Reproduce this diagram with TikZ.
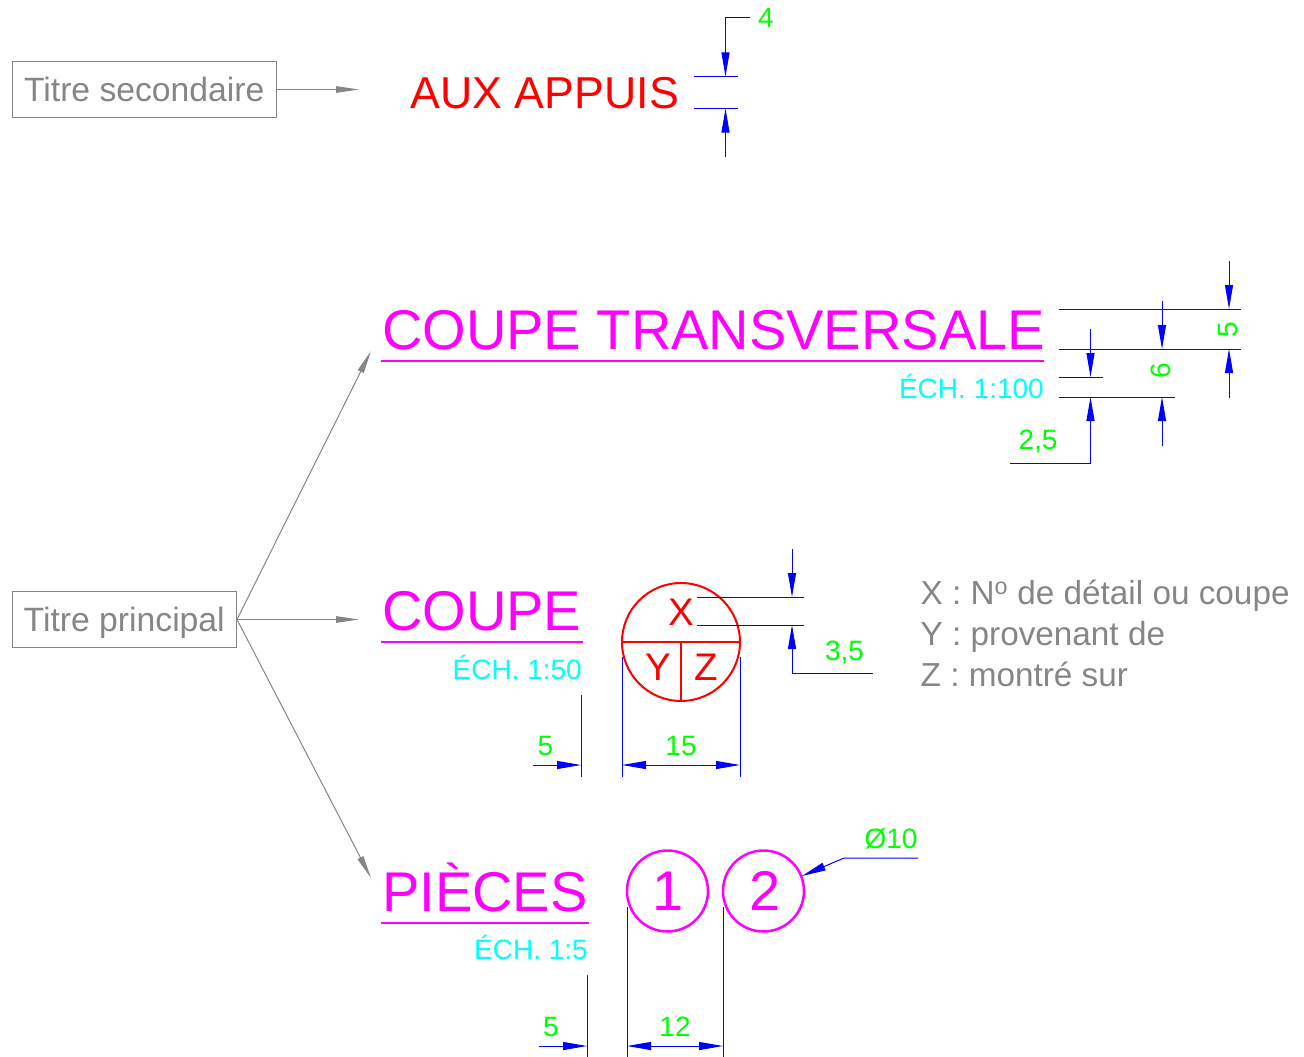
\documentclass[tikz,border=0pt]{standalone}
\usepackage{fontspec}
\setmainfont{Liberation Sans}
\usetikzlibrary{arrows.meta}
\definecolor{titregris}{HTML}{868686}
\definecolor{titrerose}{RGB}{255,0,255}
\definecolor{titrecyan}{RGB}{0,255,255}
\definecolor{titrevert}{RGB}{0,255,0}
\definecolor{titrebleu}{RGB}{0,0,255}
\definecolor{titrerouge}{RGB}{255,0,0}
\tikzset{
	cote/.style={titrebleu, line width=1pt},
	fleche/.style={cote, -{Triangle[length=24pt,width=8pt]}},
	renvoi/.style={titregris, line width=1pt, -{Triangle[length=23pt,width=6.5pt]}},
	cadre/.style={draw=titregris, line width=1pt, text=titregris, inner sep=0pt, text height=23.5pt, text depth=0pt, font=\fontsize{33.7}{40}\selectfont},
	note/.style={titregris, anchor=base west, inner sep=0pt, font=\fontsize{33.3}{40}\selectfont},
	titre/.style={titrerose, anchor=base west, inner sep=0pt, font=\fontsize{56}{60}\selectfont},
	echelle/.style={titrecyan, anchor=base east, inner sep=0pt, font=\fontsize{28}{30}\selectfont},
	valeur/.style={titrevert, anchor=base, inner sep=0pt, font=\fontsize{28}{30}\selectfont},
	repere/.style={titrerouge, anchor=base, inner sep=0pt, font=\fontsize{38.5}{40}\selectfont},
	souligne/.style={titrerose, line width=2.5pt},
}
\begin{document}
\begin{tikzpicture}[x=1pt, y=-1pt]
		%%%%% START %%%%%
		\useasboundingbox (0, 0) rectangle (1304, 1057);
		
		\node[cadre, minimum width=264.5pt, minimum height=56.5pt] (secondaire) at (144.25, 89.5) {Titre secondaire};
		\node[cadre, minimum width=224.5pt, minimum height=56pt] (principal) at (124.25, 619.5) {Titre principal};
		
		\node[titrerouge, anchor=base west, inner sep=0pt, font=\fontsize{44.7}{50}\selectfont] (appuis) at (410.5, 108.5) {AUX APPUIS};
		\node[titre] (transversale) at (382, 349.5) {COUPE TRANSVERSALE};
		\node[titre] (coupe) at (382, 630) {COUPE};
		\node[titre] (pieces) at (382, 911) {PIÈCES};
		
		\coordinate (versappuis) at (359, 89.5);
		\coordinate (verstransversale) at (371, 351);
		\coordinate (verscoupe) at (359, 619.5);
		\coordinate (verspieces) at (371, 878);
		\draw[renvoi] (secondaire.east) -- (versappuis);
		\draw[renvoi] (principal.east) -- (verstransversale);
		\draw[renvoi] (principal.east) -- (verscoupe);
		\draw[renvoi] (principal.east) -- (verspieces);
		
		\draw[souligne] (381, 361) -- (1044, 361);
		\draw[souligne] (381, 642) -- (583, 642);
		\draw[souligne] (381, 923) -- (589, 923);
		
		\node[echelle] (echtransversale) at (1044, 398) {ÉCH. 1:100};
		\node[echelle] (echcoupe) at (582, 679) {ÉCH. 1:50};
		\node[echelle] (echpieces) at (588, 959.5) {ÉCH. 1:5};
		
		% repere de coupe
		\draw[titrerouge, line width=2pt] (681, 642) circle (59);
		\draw[titrerouge, line width=2pt] (622, 642) -- (740, 642);
		\draw[titrerouge, line width=2pt] (681, 642) -- (681, 701);
		\node[repere] (x) at (681, 625) {X};
		\node[repere] (y) at (658.5, 680) {Y};
		\node[repere] (z) at (706, 680) {Z};
		
		% reperes de pieces
		\draw[titrerose, line width=2.5pt] (667.5, 891) circle (40.5);
		\draw[titrerose, line width=2.5pt] (763.5, 891) circle (40.5);
		\node[titre, anchor=base] (un) at (668, 910.5) {1};
		\node[titre, anchor=base] (deux) at (765.5, 910.5) {2};
		
		\node[note] (notex) at (920.5, 604) {X : N\textsuperscript{o} de détail ou coupe};
		\node[note] (notey) at (920.5, 645) {Y : provenant de};
		\node[note] (notez) at (920.5, 686) {Z : montré sur};
		
		% cote 4
		\draw[cote] (694, 76.5) -- (738, 76.5);
		\draw[cote] (694, 108.5) -- (738, 108.5);
		\draw[fleche] (750, 18) -- (725.5, 18) -- (725.5, 76.5);
		\draw[fleche] (725.5, 157) -- (725.5, 108.5);
		\node[valeur] (cote4) at (766, 28) {4};
		
		% cotes du titre principal
		\draw[cote] (1059, 309) -- (1241, 309);
		\draw[cote] (1059, 349) -- (1241, 349);
		\draw[cote] (1059, 377) -- (1103, 377);
		\draw[cote] (1059, 397) -- (1175, 397);
		\draw[fleche] (1229, 261) -- (1229, 309);
		\draw[fleche] (1229, 398) -- (1229, 349);
		\draw[fleche] (1162, 301) -- (1162, 349);
		\draw[fleche] (1162, 446) -- (1162, 397);
		\draw[fleche] (1090.5, 329) -- (1090.5, 377);
		\draw[fleche] (1010, 463) -- (1090.5, 463) -- (1090.5, 397);
		\node[valeur, rotate=90] (cote5) at (1237, 330) {5};
		\node[valeur, rotate=90] (cote6) at (1170, 371) {6};
		\node[valeur] (cote25) at (1038, 449) {2,5};
		
		% cotes de la coupe
		\draw[cote] (697, 597) -- (804, 597);
		\draw[cote] (697, 625) -- (804, 625);
		\draw[fleche] (792, 549) -- (792, 597);
		\draw[fleche] (873, 673.5) -- (792, 673.5) -- (792, 625);
		\node[valeur] (cote35) at (844.5, 660) {3,5};
		
		\draw[cote] (622, 657) -- (622, 777);
		\draw[cote] (740, 657) -- (740, 777);
		\draw[fleche] (681, 765) -- (622, 765);
		\draw[fleche] (681, 765) -- (740, 765);
		\node[valeur] (cote15) at (681, 755) {15};
		
		\draw[cote] (581, 695) -- (581, 777);
		\draw[fleche] (533, 765) -- (581, 765);
		\node[valeur] (cotee) at (545.5, 755) {5};
		
		% cotes des pieces
		\draw[cote] (627, 907) -- (627, 1057);
		\draw[cote] (723, 907) -- (723, 1057);
		\draw[fleche] (675, 1046) -- (627, 1046);
		\draw[fleche] (675, 1046) -- (723, 1046);
		\node[valeur] (cote12) at (675, 1036) {12};
		
		\draw[cote] (587, 975) -- (587, 1057);
		\draw[fleche] (539, 1046) -- (587, 1046);
		\node[valeur] (coteb) at (551, 1036) {5};
		
		\draw[fleche] (918, 858) -- (844, 858) -- (802, 876);
		\node[valeur] (diametre) at (891, 848) {Ø10};
		%%%%% END %%%%%
	\end{tikzpicture}
\end{document}
